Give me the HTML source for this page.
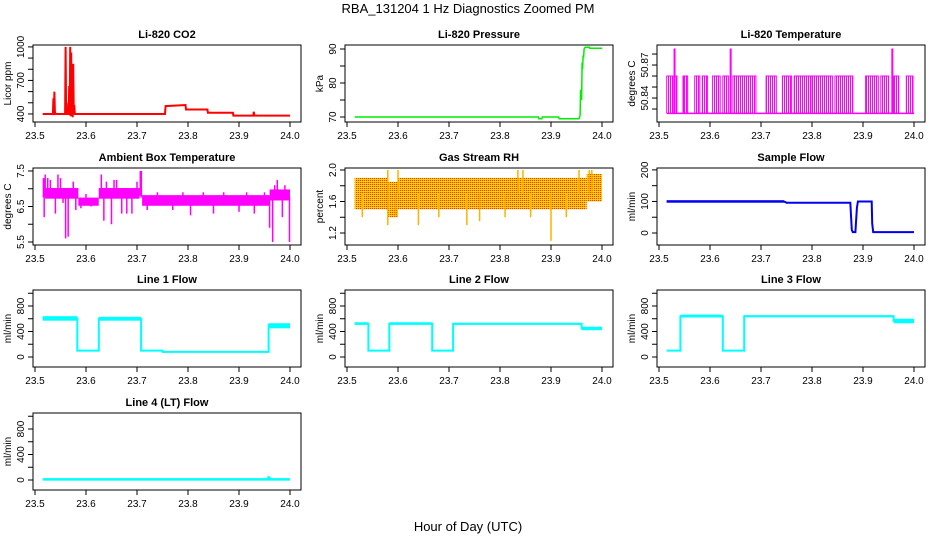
<!DOCTYPE html>
<html><head><meta charset="utf-8"><style>
html,body{margin:0;padding:0;background:#fff;}
svg{display:block;font-family:"Liberation Sans",sans-serif;}
</style></head><body>
<svg id="chart" width="936" height="540" viewBox="0 0 936 540" xmlns="http://www.w3.org/2000/svg">
<defs>
<pattern id="pinkLines" width="2" height="4" patternUnits="userSpaceOnUse"><rect x="0" y="0" width="1" height="4" fill="#ff00ff"/></pattern>
<pattern id="rhCheck" width="2" height="2" patternUnits="userSpaceOnUse"><rect width="2" height="2" fill="#ffd000"/><rect width="1" height="1" fill="#ff3000"/></pattern>
</defs>
<text x="468" y="13" text-anchor="middle" font-size="13">RBA_131204  1 Hz Diagnostics Zoomed PM</text>
<text x="468" y="531" text-anchor="middle" font-size="13">Hour of Day (UTC)</text>
</svg>
<script>
// ---- data ----
const xTicks = [23.5, 23.6, 23.7, 23.8, 23.9, 24.0];
const xTickLabels = ["23.5", "23.6", "23.7", "23.8", "23.9", "24.0"];

const co2T = [23.515,23.535,23.536,23.537,23.538,23.539,23.540,23.541,23.559,23.560,23.561,23.562,23.563,23.566,23.567,23.568,23.569,23.570,23.571,23.572,23.573,23.574,23.575,23.576,23.577,23.578,23.6,23.755,23.756,23.795,23.796,23.838,23.839,23.888,23.889,23.928,23.929,23.930,24.0];
const co2V = [400,400,540,390,600,420,400,400,400,1000,420,500,400,400,650,390,1000,380,950,400,850,370,850,400,480,400,400,400,470,480,440,440,410,410,385,385,420,385,385];

const presT = [23.515,23.875,23.876,23.882,23.883,23.915,23.916,23.955,23.957,23.958,23.960,23.961,23.962,23.963,23.964,23.965,23.967,23.975,23.976,24.0];
const presV = [70,70,69.5,69.5,70,70,69.5,69.5,70.5,78,75,86,84,88,87.5,90,90.5,90.5,90.2,90.2];

const tempBase = 50.826;
const tempBandS = [23.515,23.530,23.547,23.550,23.570,23.585,23.605,23.625,23.645,23.710,23.742,23.765,23.800,23.845,23.905,23.935,23.960,23.985];
const tempBandE = [23.527,23.535,23.549,23.556,23.580,23.595,23.620,23.636,23.690,23.730,23.760,23.800,23.840,23.880,23.930,23.950,23.970,23.998];
const tempBandV = [50.86,50.86,50.86,50.86,50.86,50.86,50.86,50.86,50.86,50.86,50.86,50.86,50.86,50.86,50.86,50.86,50.86,50.86];
const tempSpikeT = [23.530,23.531,23.640,23.641,23.957,23.958];
const tempSpikeV = [50.885,50.885,50.885,50.885,50.885,50.885];

const ambS = [23.515,23.520,23.585,23.625,23.705,23.710,23.960];
const ambE = [23.520,23.585,23.625,23.705,23.710,23.960,24.000];
const ambLo = [6.75,6.72,6.52,6.72,6.80,6.52,6.67];
const ambHi = [7.30,7.02,6.75,7.02,7.50,6.82,6.98];
const ambSpT = [23.518,23.520,23.525,23.530,23.540,23.545,23.550,23.555,23.560,23.565,23.575,23.580,23.590,23.600,23.610,23.630,23.635,23.640,23.650,23.655,23.660,23.670,23.680,23.690,23.700,23.708,23.720,23.740,23.770,23.790,23.805,23.830,23.850,23.870,23.900,23.915,23.930,23.950,23.960,23.966,23.970,23.975,23.985,23.990,23.999];
const ambSpV = [6.2,7.4,7.3,7.25,6.3,7.4,7.3,6.6,5.6,5.65,7.2,6.4,6.45,6.85,6.5,7.4,6.1,7.2,6.0,7.25,7.25,6.3,6.3,6.3,7.2,7.5,6.4,6.9,6.4,6.9,6.25,6.9,6.3,6.9,6.35,6.9,6.3,6.9,5.9,5.5,7.1,7.25,6.2,7.1,5.5];

const rhS = [23.515,23.580,23.600,23.970];
const rhE = [23.580,23.600,23.970,24.000];
const rhLo = [1.5,1.4,1.5,1.6];
const rhHi = [1.9,1.85,1.9,1.95];
const rhSpT = [23.530,23.580,23.595,23.640,23.680,23.735,23.760,23.810,23.860,23.900,23.930,23.580,23.600,23.835,23.845,23.955,23.975,23.980];
const rhSpV = [1.4,1.3,1.4,1.3,1.4,1.3,1.35,1.4,1.4,1.1,1.4,2.0,2.0,2.0,2.0,2.0,2.0,2.0];

const sfT = [23.515,23.745,23.750,23.875,23.878,23.880,23.885,23.888,23.890,23.917,23.918,23.920,24.0];
const sfV = [100,100,96,96,10,3,3,80,100,100,30,3,3];
const sfBandS = [23.515]; const sfBandE = [23.745]; const sfBandLo = [96]; const sfBandHi = [104];

const l1T = [23.515,23.583,23.583,23.625,23.625,23.708,23.708,23.750,23.750,23.958,23.958,24.0];
const l1V = [600,600,100,100,600,600,100,100,80,80,500,500];
const l1S = [23.515,23.625,23.958]; const l1E = [23.583,23.708,24.0]; const l1Lo = [570,570,450]; const l1Hi = [640,630,530];

const l2T = [23.515,23.542,23.542,23.583,23.583,23.667,23.667,23.708,23.708,23.960,23.960,24.0];
const l2V = [520,520,100,100,520,520,100,100,520,520,450,450];
const l2S = [23.515,23.583,23.708,23.960]; const l2E = [23.542,23.667,23.960,24.0]; const l2Lo = [505,505,505,420]; const l2Hi = [545,545,535,475];

const l3T = [23.515,23.542,23.542,23.625,23.625,23.667,23.667,23.960,23.960,24.0];
const l3V = [100,100,640,640,100,100,640,640,570,570];
const l3S = [23.542,23.667,23.960]; const l3E = [23.625,23.960,24.0]; const l3Lo = [620,625,530]; const l3Hi = [665,655,600];

const l4T = [23.515,23.957,23.958,23.960,23.961,24.0];
const l4V = [10,10,40,30,10,10];

// ---- layout ----
const NS = "http://www.w3.org/2000/svg";
const svg = document.getElementById("chart");
const colOff = [0, 312, 624];
const rowTop = [45, 168, 290, 413];
const boxH = 77;
function mk(tag, attrs, parent) {
  const e = document.createElementNS(NS, tag);
  for (const k in attrs) e.setAttribute(k, attrs[k]);
  (parent || svg).appendChild(e);
  return e;
}

function makePanel(p) {
  const ox = colOff[p.col], top = rowTop[p.row], bot = top + boxH;
  const g = mk("g", {});
  
  
  const xs = t => 35 + ox + (t - 23.5) * 510;
  const ys = v => bot - (v - p.ylim[0]) / (p.ylim[1] - p.ylim[0]) * boxH;
  const left = 33 + ox, right = 301 + ox;
  const inner = mk("g", {}, g);
  
  
  p.draw(inner, xs, ys);
  const box = mk("rect", {x: left, y: top, width: right - left, height: boxH, fill: "none", stroke: "#000", "stroke-width": 1}, g);
  
  
  const title = mk("text", {x: (left + right) / 2, y: top - 7, "text-anchor": "middle", "font-size": 11, "font-weight": "bold"}, g);
  title.textContent = p.title;
  
  
  const xa = mk("g", {}, g);
  
  
  mk("line", {x1: xs(xTicks[0]), x2: xs(xTicks[xTicks.length - 1]), y1: bot, y2: bot, stroke: "#000"}, xa);
  xTicks.forEach((t, i) => {
    mk("line", {x1: xs(t), x2: xs(t), y1: bot, y2: bot + 5, stroke: "#000"}, xa);
    const tx = mk("text", {x: xs(t), y: bot + 17, "text-anchor": "middle", "font-size": 10}, xa);
    tx.textContent = xTickLabels[i];
    
    
  });
  const ya = mk("g", {}, g);
  
  
  mk("line", {x1: left, x2: left, y1: ys(p.yTicks[0]), y2: ys(p.yTicks[p.yTicks.length - 1]), stroke: "#000"}, ya);
  p.yTicks.forEach((v, i) => {
    mk("line", {x1: left - 5, x2: left, y1: ys(v), y2: ys(v), stroke: "#000"}, ya);
    if (p.yLabels[i]) {
      const yy = ys(v), xx = left - 9;
      const tx = mk("text", {x: xx, y: yy, "text-anchor": "middle", "font-size": 10, transform: `rotate(-90 ${xx} ${yy})`}, ya);
      tx.textContent = p.yLabels[i];
      
      
    }
  });
  const yl = mk("text", {x: ox + 11, y: top + boxH / 2, "text-anchor": "middle", "font-size": 10, transform: `rotate(-90 ${ox + 11} ${top + boxH / 2})`}, g);
  yl.textContent = p.ylab;
  
  
}

function line(g, T, V, xs, ys, color, w) {
  const pl = mk("polyline", {points: T.map((t, i) => xs(t).toFixed(1) + "," + ys(V[i]).toFixed(1)).join(" "), fill: "none", stroke: color, "stroke-width": w, "stroke-linejoin": "miter"}, g);
  
  
}
function bands(g, S, E, Lo, Hi, xs, ys, fill) {
  S.forEach((s, i) => {
    const r = mk("rect", {x: xs(s), y: ys(Hi[i]), width: Math.max(1, xs(E[i]) - xs(s)), height: ys(Lo[i]) - ys(Hi[i]), fill: fill}, g);
    
    
  });
}
function spikes(g, T, V, base, xs, ys, color) {
  T.forEach((t, i) => {
    const l = mk("line", {x1: xs(t), x2: xs(t), y1: ys(base(t)), y2: ys(V[i]), stroke: color, "stroke-width": 1.5}, g);
    
    
  });
}
const flowTicks = [0, 200, 400, 600, 800, 1000];
const flowLabels = ["0", "", "400", "", "800", ""];
const flowYlim = [-157, 1051];

makePanel({name: "co2-panel", title: "Li-820 CO2", ylab: "Licor ppm", col: 0, row: 0, ylim: [328, 1017],
  yTicks: [400, 500, 600, 700, 800, 900, 1000], yLabels: ["400", "", "", "700", "", "", "1000"],
  draw: (g, xs, ys) => line(g, co2T, co2V, xs, ys, "#ff0000", 2)});
makePanel({name: "pressure-panel", title: "Li-820 Pressure", ylab: "kPa", col: 1, row: 0, ylim: [68.53, 91.18],
  yTicks: [70, 75, 80, 85, 90], yLabels: ["70", "", "80", "", "90"],
  draw: (g, xs, ys) => line(g, presT, presV, xs, ys, "#00ee00", 1.5)});
makePanel({name: "temperature-panel", title: "Li-820 Temperature", ylab: "degrees C", col: 2, row: 0, ylim: [50.8182, 50.8882],
  yTicks: [50.83, 50.84, 50.85, 50.86, 50.87, 50.88], yLabels: ["", "50.84", "", "", "50.87", ""],
  draw: (g, xs, ys) => {
    line(g, [23.515, 24.0], [tempBase, tempBase], xs, ys, "#ff00ff", 1.5);
    bands(g, tempBandS, tempBandE, tempBandS.map(() => tempBase), tempBandV, xs, ys, "url(#pinkLines)");
    tempBandS.forEach((s, i) => {
      line(g, [s, s, tempBandE[i], tempBandE[i]], [tempBase, tempBandV[i], tempBandV[i], tempBase], xs, ys, "#ff00ff", 1);
    });
    spikes(g, tempSpikeT, tempSpikeV, () => tempBase, xs, ys, "#ff00ff");
  }});
makePanel({name: "ambient-temp-panel", title: "Ambient Box Temperature", ylab: "degrees C", col: 0, row: 1, ylim: [5.4155, 7.584],
  yTicks: [5.5, 6.0, 6.5, 7.0, 7.5], yLabels: ["5.5", "", "6.5", "", "7.5"],
  draw: (g, xs, ys) => {
    bands(g, ambS, ambE, ambLo, ambHi, xs, ys, "#ff00ff");
    spikes(g, ambSpT, ambSpV, () => 6.75, xs, ys, "#ff00ff");
  }});
makePanel({name: "rh-panel", title: "Gas Stream RH", ylab: "percent", col: 1, row: 1, ylim: [1.0476, 2.0254],
  yTicks: [1.2, 1.4, 1.6, 1.8, 2.0], yLabels: ["1.2", "", "1.6", "", "2.0"],
  draw: (g, xs, ys) => {
    bands(g, rhS, rhE, rhLo, rhHi, xs, ys, "url(#rhCheck)");
    spikes(g, rhSpT, rhSpV, () => 1.7, xs, ys, "#ffb000");
  }});
makePanel({name: "sample-flow-panel", title: "Sample Flow", ylab: "ml/min", col: 2, row: 1, ylim: [-38, 206],
  yTicks: [0, 50, 100, 150, 200], yLabels: ["0", "", "100", "", "200"],
  draw: (g, xs, ys) => {
    bands(g, sfBandS, sfBandE, sfBandLo, sfBandHi, xs, ys, "#0000ee");
    line(g, sfT, sfV, xs, ys, "#0000ee", 2);
  }});
makePanel({name: "line1-flow-panel", title: "Line 1 Flow", ylab: "ml/min", col: 0, row: 2, ylim: flowYlim,
  yTicks: flowTicks, yLabels: flowLabels,
  draw: (g, xs, ys) => { bands(g, l1S, l1E, l1Lo, l1Hi, xs, ys, "#00ffff"); line(g, l1T, l1V, xs, ys, "#00ffff", 2); }});
makePanel({name: "line2-flow-panel", title: "Line 2 Flow", ylab: "ml/min", col: 1, row: 2, ylim: flowYlim,
  yTicks: flowTicks, yLabels: flowLabels,
  draw: (g, xs, ys) => { bands(g, l2S, l2E, l2Lo, l2Hi, xs, ys, "#00ffff"); line(g, l2T, l2V, xs, ys, "#00ffff", 2); }});
makePanel({name: "line3-flow-panel", title: "Line 3 Flow", ylab: "ml/min", col: 2, row: 2, ylim: flowYlim,
  yTicks: flowTicks, yLabels: flowLabels,
  draw: (g, xs, ys) => { bands(g, l3S, l3E, l3Lo, l3Hi, xs, ys, "#00ffff"); line(g, l3T, l3V, xs, ys, "#00ffff", 2); }});
makePanel({name: "line4-flow-panel", title: "Line 4 (LT) Flow", ylab: "ml/min", col: 0, row: 3, ylim: flowYlim,
  yTicks: flowTicks, yLabels: flowLabels,
  draw: (g, xs, ys) => line(g, l4T, l4V, xs, ys, "#00ffff", 2.5)});
</script>
</body></html>
